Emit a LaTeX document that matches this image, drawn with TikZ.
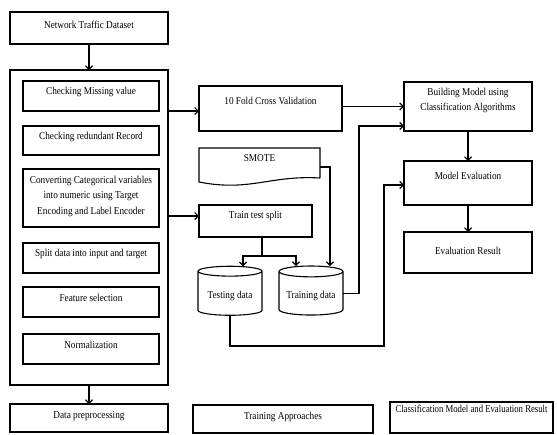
\documentclass[tikz,border=0pt]{standalone}
\usepackage{fontspec}
\usepackage{graphicx}
\setmainfont{Liberation Serif}
\usetikzlibrary{arrows.meta,shapes.geometric}
\renewcommand\arraystretch{1.4}
\newcommand\txs[3]{\raisebox{#2pt}[0pt][0pt]{\scalebox{#1}[1]{\begin{tabular}{@{}c@{}}#3\end{tabular}}}}
\newcommand\tx[2]{\txs{0.88}{#1}{#2}}
\begin{document}
\begin{tikzpicture}[x=1pt,y=-1pt,line width=1.1pt,
  box/.style={draw,rectangle,inner sep=0pt,outer sep=0pt,font=\fontsize{10.5}{11}\selectfont},
  subbox/.style={box,minimum width=136pt,minimum height=30pt},
  arr/.style={-{Straight Barb[length=3.5pt,width=7pt]}},
  cyl/.style={draw,cylinder,shape border rotate=90,aspect=0.22,minimum width=64pt,minimum height=49pt,inner sep=0pt,outer sep=0pt,font=\fontsize{10.5}{11}\selectfont}]
\fill[white] (0,0) rectangle (557,434);
\useasboundingbox (0,0) rectangle (557,434);

% left column
\node[box,minimum width=158pt,minimum height=32pt] (ntd) at (89,28) {\tx{0.2}{Network Traffic Dataset}};
\node[box,minimum width=158pt,minimum height=315pt] (outer) at (89,227.5) {};
\node[subbox] (cmv) at (91,96) {\tx{1.7}{Checking Missing value}};
\node[subbox,minimum height=29pt] (crr) at (91,140.5) {\tx{1.7}{Checking redundant Record}};
\node[subbox,minimum height=58pt] (conv) at (91,198) {\tx{-0.3}{Converting Categorical variables\\into numeric using Target\\Encoding and Label Encoder}};
\node[subbox] (split) at (91,258) {\tx{1.7}{Split data into input and target}};
\node[subbox] (fs) at (91,302) {\tx{0.7}{Feature selection}};
\node[subbox] (norm) at (91,349) {\tx{0.7}{Normalization}};
\node[box,minimum width=158pt,minimum height=28pt] (dp) at (89,418) {\tx{-0.3}{Data preprocessing}};

% middle column
\node[box,minimum width=143pt,minimum height=45pt] (tenfold) at (270.5,108.5) {\tx{4.2}{10 Fold Cross Validation}};
\node[minimum width=121pt,minimum height=30pt,inner sep=0pt,outer sep=0pt,font=\fontsize{10.5}{11}\selectfont] (smote) at (259.5,163) {\tx{1.7}{SMOTE}};
\draw (smote.south east) -- (smote.north east) -- (smote.north west) -- (199,182)
  .. controls (250,192) and (270,175) .. (smote.south east);
\node[box,minimum width=113pt,minimum height=32pt] (tts) at (255.5,221) {\tx{2.7}{Train test split}};
\node[cyl] (test) at (230,293.5) {\tx{-4.8}{Testing data}};
\node[cyl] (train) at (311,293.5) {\tx{-4.8}{Training data}};
\node[box,minimum width=180pt,minimum height=28pt] (ta) at (283,419) {\tx{-0.3}{Training Approaches}};

% right column
\node[box,minimum width=128pt,minimum height=49pt] (bm) at (468,106.5) {\tx{3.7}{Building Model using\\Classification Algorithms}};
\node[box,minimum width=128pt,minimum height=44pt] (me) at (468,183) {\tx{3.7}{Model Evaluation}};
\node[box,minimum width=128pt,minimum height=41pt] (er) at (468,252.5) {\tx{-1.8}{Evaluation Result}};
\node[box,minimum width=163pt,minimum height=31pt] (cm) at (471.5,417.5) {\txs{0.83}{5.2}{Classification Model and Evaluation Result}};

% connectors
\draw[arr] (ntd) -- (outer);
\draw[arr] (outer) -- (dp);
\coordinate (a1) at ([yshift=-2.5pt]tenfold.west);
\draw[arr] (a1 -| outer.east) -- (a1);
\coordinate (a2) at ([yshift=5pt]tts.west);
\draw[arr] (a2 -| outer.east) -- (a2);
\coordinate (br) at ([xshift=6.5pt]tts.south);
\coordinate (junc) at ([yshift=-19pt]br);
\draw (br) -- (junc);
\draw[arr] (junc) -| ([xshift=13pt]test.north);
\draw[arr] (junc) -| ([xshift=-15pt]train.north);
\draw[arr] ([yshift=-4pt]smote.east) -| ([xshift=19pt]train.north);
\draw[arr] (train.east) -- ++(16,0) |- ([yshift=-19.5pt]bm.west);
\draw[arr] (tenfold.east |- bm.west) -- (bm.west);
\draw[arr] (bm) -- (me);
\draw[arr] (me) -- (er);
\coordinate (corner) at (384,346);
\draw[arr] (test.south) |- (corner) |- ([yshift=-2pt]me.west);
\end{tikzpicture}
\end{document}
